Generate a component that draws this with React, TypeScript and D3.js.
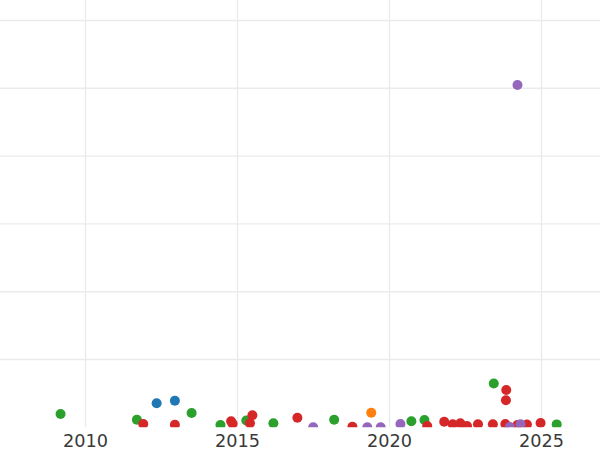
import React from "react";
import * as d3 from "d3";

const blueYears = [2012.34, 2012.94];
const blueValues = [0.354, 0.392];

const orangeYears = [2019.4];
const orangeValues = [0.214];

const greenYears = [2009.18, 2011.69, 2013.49, 2014.44, 2015.29, 2016.18, 2018.18, 2020.72, 2021.15, 2023.43, 2025.5];
const greenValues = [0.196, 0.112, 0.211, 0.034, 0.1, 0.059, 0.112, 0.088, 0.108, 0.646, 0.043];

const redYears = [2011.9, 2012.94, 2014.79, 2014.84, 2015.49, 2015.41, 2016.97, 2018.78, 2021.24, 2021.8, 2022.08, 2022.33, 2022.55, 2022.91, 2023.4, 2023.84, 2023.83, 2023.81, 2024.21, 2024.52, 2024.97];
const redValues = [0.049, 0.038, 0.088, 0.052, 0.178, 0.059, 0.142, 0.009, 0.019, 0.083, 0.044, 0.059, 0.019, 0.044, 0.044, 0.55, 0.4, 0.049, 0.034, 0.041, 0.063];

const purpleYears = [2024.21, 2017.49, 2019.27, 2019.71, 2020.36, 2023.96, 2024.31];
const purpleValues = [5.049, 0.0, 0.0, 0.0, 0.049, 0.004, 0.044];

const xTicks = [2010, 2015, 2020, 2025];
const yGrid = [1, 2, 3, 4, 5, 6];

const series = [
  { name: "blue", color: "#1f77b4", xs: blueYears, ys: blueValues },
  { name: "orange", color: "#ff7f0e", xs: orangeYears, ys: orangeValues },
  { name: "green", color: "#2ca02c", xs: greenYears, ys: greenValues },
  { name: "red", color: "#d62728", xs: redYears, ys: redValues },
  { name: "purple", color: "#9467bd", xs: purpleYears, ys: purpleValues },
];

export default function App() {
  const W = 600;
  const H = 450;
  const x = d3.scaleLinear().domain([2010, 2025]).range([85.5, 541.5]);
  const y = d3.scaleLinear().domain([0, 6]).range([427.3, 20.5]);
  const plotBottom = 427.3;
  return (
    <svg
      width={W}
      height={H}
      style={{ position: "absolute", left: 0, top: 0, background: "#fff" }}
    >
      <defs>
        <clipPath id="plotClip">
          <rect x={0} y={0} width={W} height={plotBottom} />
        </clipPath>
      </defs>
      <rect x={0} y={0} width={W} height={H} fill="#fff" />
      <g>
        {yGrid.map((v) => (
          <line key={"h" + v} x1={0} x2={W} y1={y(v)} y2={y(v)} stroke="#ebebeb" strokeWidth={1.4} />
        ))}
        {xTicks.map((t) => (
          <line key={"v" + t} x1={x(t)} x2={x(t)} y1={0} y2={plotBottom} stroke="#ebebeb" strokeWidth={1.4} />
        ))}
      </g>
      <g clipPath="url(#plotClip)">
        {series.map((s) =>
          s.xs.map((xv, i) => (
            <circle key={s.name + i} cx={x(xv)} cy={y(s.ys[i])} r={5} fill={s.color} />
          ))
        )}
      </g>
      <g>
        {xTicks.map((t) => (
          <text
            key={"t" + t}
            x={x(t)}
            y={447}
            textAnchor="middle"
            fontFamily="DejaVu Sans"
            fontSize={17.7}
            fill="#3a3a3a"
          >
            {t}
          </text>
        ))}
      </g>
    </svg>
  );
}
